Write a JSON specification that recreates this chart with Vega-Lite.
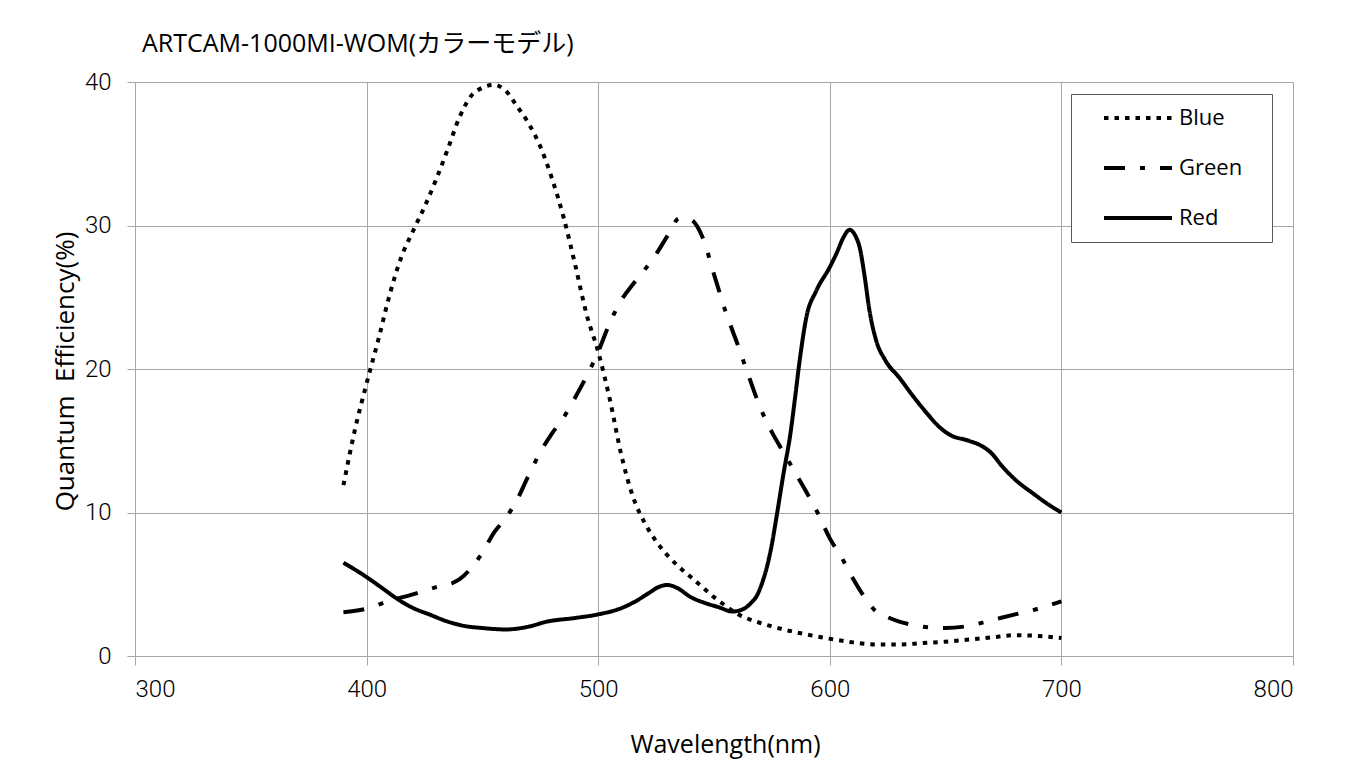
{
  "$schema": "https://vega.github.io/schema/vega-lite/v6.json",
  "width": 1158,
  "height": 574,
  "autosize": {"type": "none"},
  "padding": {"left": 135, "top": 82, "right": 69, "bottom": 106},
  "background": "white",
  "title": {
    "text": "ARTCAM-1000MI-WOM(カラーモデル)",
    "anchor": "start",
    "frame": "group",
    "dx": 7,
    "offset": -7,
    "baseline": "alphabetic",
    "font": "Open Sans, Noto Sans CJK JP",
    "fontSize": 25,
    "fontWeight": "normal",
    "color": "#000000"
  },
  "data": {
    "values": [
      {"series": "Blue", "wavelength": 390, "qe": 11.9},
      {"series": "Blue", "wavelength": 395, "qe": 15.8},
      {"series": "Blue", "wavelength": 400, "qe": 19.0},
      {"series": "Blue", "wavelength": 405, "qe": 22.0},
      {"series": "Blue", "wavelength": 410, "qe": 25.2},
      {"series": "Blue", "wavelength": 415, "qe": 27.8},
      {"series": "Blue", "wavelength": 420, "qe": 29.6},
      {"series": "Blue", "wavelength": 425, "qe": 31.3},
      {"series": "Blue", "wavelength": 430, "qe": 33.2},
      {"series": "Blue", "wavelength": 435, "qe": 35.3},
      {"series": "Blue", "wavelength": 440, "qe": 37.5},
      {"series": "Blue", "wavelength": 445, "qe": 39.0},
      {"series": "Blue", "wavelength": 450, "qe": 39.6},
      {"series": "Blue", "wavelength": 455, "qe": 39.8},
      {"series": "Blue", "wavelength": 460, "qe": 39.4},
      {"series": "Blue", "wavelength": 465, "qe": 38.3},
      {"series": "Blue", "wavelength": 470, "qe": 37.1},
      {"series": "Blue", "wavelength": 475, "qe": 35.5},
      {"series": "Blue", "wavelength": 480, "qe": 33.3},
      {"series": "Blue", "wavelength": 485, "qe": 30.6},
      {"series": "Blue", "wavelength": 490, "qe": 27.3},
      {"series": "Blue", "wavelength": 495, "qe": 23.8},
      {"series": "Blue", "wavelength": 500, "qe": 21.2},
      {"series": "Blue", "wavelength": 505, "qe": 17.9},
      {"series": "Blue", "wavelength": 510, "qe": 14.0},
      {"series": "Blue", "wavelength": 515, "qe": 11.1},
      {"series": "Blue", "wavelength": 520, "qe": 9.3},
      {"series": "Blue", "wavelength": 525, "qe": 8.0},
      {"series": "Blue", "wavelength": 530, "qe": 7.0},
      {"series": "Blue", "wavelength": 535, "qe": 6.2},
      {"series": "Blue", "wavelength": 540, "qe": 5.5},
      {"series": "Blue", "wavelength": 545, "qe": 4.8},
      {"series": "Blue", "wavelength": 550, "qe": 4.1},
      {"series": "Blue", "wavelength": 555, "qe": 3.5},
      {"series": "Blue", "wavelength": 560, "qe": 2.95},
      {"series": "Blue", "wavelength": 570, "qe": 2.3},
      {"series": "Blue", "wavelength": 580, "qe": 1.85},
      {"series": "Blue", "wavelength": 590, "qe": 1.5},
      {"series": "Blue", "wavelength": 600, "qe": 1.2},
      {"series": "Blue", "wavelength": 610, "qe": 0.95},
      {"series": "Blue", "wavelength": 620, "qe": 0.8},
      {"series": "Blue", "wavelength": 630, "qe": 0.8},
      {"series": "Blue", "wavelength": 640, "qe": 0.9},
      {"series": "Blue", "wavelength": 650, "qe": 1.0},
      {"series": "Blue", "wavelength": 660, "qe": 1.15},
      {"series": "Blue", "wavelength": 670, "qe": 1.3},
      {"series": "Blue", "wavelength": 680, "qe": 1.45},
      {"series": "Blue", "wavelength": 690, "qe": 1.4},
      {"series": "Blue", "wavelength": 700, "qe": 1.25},

      {"series": "Green", "wavelength": 390, "qe": 3.05},
      {"series": "Green", "wavelength": 400, "qe": 3.3},
      {"series": "Green", "wavelength": 410, "qe": 3.85},
      {"series": "Green", "wavelength": 420, "qe": 4.3},
      {"series": "Green", "wavelength": 430, "qe": 4.8},
      {"series": "Green", "wavelength": 438, "qe": 5.15},
      {"series": "Green", "wavelength": 442, "qe": 5.6},
      {"series": "Green", "wavelength": 446, "qe": 6.3},
      {"series": "Green", "wavelength": 450, "qe": 7.2},
      {"series": "Green", "wavelength": 455, "qe": 8.6},
      {"series": "Green", "wavelength": 460, "qe": 9.6},
      {"series": "Green", "wavelength": 465, "qe": 10.9},
      {"series": "Green", "wavelength": 470, "qe": 12.6},
      {"series": "Green", "wavelength": 475, "qe": 14.2},
      {"series": "Green", "wavelength": 480, "qe": 15.5},
      {"series": "Green", "wavelength": 485, "qe": 16.6},
      {"series": "Green", "wavelength": 490, "qe": 18.0},
      {"series": "Green", "wavelength": 495, "qe": 19.5},
      {"series": "Green", "wavelength": 500, "qe": 21.2},
      {"series": "Green", "wavelength": 505, "qe": 23.2},
      {"series": "Green", "wavelength": 510, "qe": 24.8},
      {"series": "Green", "wavelength": 515, "qe": 25.9},
      {"series": "Green", "wavelength": 520, "qe": 26.9},
      {"series": "Green", "wavelength": 525, "qe": 28.0},
      {"series": "Green", "wavelength": 530, "qe": 29.3},
      {"series": "Green", "wavelength": 535, "qe": 30.5},
      {"series": "Green", "wavelength": 540, "qe": 30.4},
      {"series": "Green", "wavelength": 545, "qe": 29.2},
      {"series": "Green", "wavelength": 550, "qe": 26.6},
      {"series": "Green", "wavelength": 555, "qe": 24.0},
      {"series": "Green", "wavelength": 560, "qe": 21.8},
      {"series": "Green", "wavelength": 565, "qe": 19.5},
      {"series": "Green", "wavelength": 570, "qe": 17.3},
      {"series": "Green", "wavelength": 575, "qe": 15.6},
      {"series": "Green", "wavelength": 580, "qe": 14.2},
      {"series": "Green", "wavelength": 585, "qe": 12.8},
      {"series": "Green", "wavelength": 590, "qe": 11.4},
      {"series": "Green", "wavelength": 595, "qe": 9.9},
      {"series": "Green", "wavelength": 600, "qe": 8.2},
      {"series": "Green", "wavelength": 605, "qe": 6.9},
      {"series": "Green", "wavelength": 610, "qe": 5.4},
      {"series": "Green", "wavelength": 615, "qe": 4.1},
      {"series": "Green", "wavelength": 620, "qe": 3.1},
      {"series": "Green", "wavelength": 625, "qe": 2.7},
      {"series": "Green", "wavelength": 630, "qe": 2.4},
      {"series": "Green", "wavelength": 640, "qe": 2.05},
      {"series": "Green", "wavelength": 650, "qe": 1.95},
      {"series": "Green", "wavelength": 660, "qe": 2.1},
      {"series": "Green", "wavelength": 670, "qe": 2.5},
      {"series": "Green", "wavelength": 680, "qe": 2.9},
      {"series": "Green", "wavelength": 690, "qe": 3.3},
      {"series": "Green", "wavelength": 700, "qe": 3.8},

      {"series": "Red", "wavelength": 390, "qe": 6.5},
      {"series": "Red", "wavelength": 400, "qe": 5.5},
      {"series": "Red", "wavelength": 407, "qe": 4.7},
      {"series": "Red", "wavelength": 414, "qe": 3.9},
      {"series": "Red", "wavelength": 420, "qe": 3.35},
      {"series": "Red", "wavelength": 427, "qe": 2.9},
      {"series": "Red", "wavelength": 435, "qe": 2.4},
      {"series": "Red", "wavelength": 442, "qe": 2.1},
      {"series": "Red", "wavelength": 450, "qe": 1.95},
      {"series": "Red", "wavelength": 460, "qe": 1.85},
      {"series": "Red", "wavelength": 470, "qe": 2.05},
      {"series": "Red", "wavelength": 478, "qe": 2.4},
      {"series": "Red", "wavelength": 490, "qe": 2.65},
      {"series": "Red", "wavelength": 500, "qe": 2.9},
      {"series": "Red", "wavelength": 511, "qe": 3.4},
      {"series": "Red", "wavelength": 516, "qe": 3.8},
      {"series": "Red", "wavelength": 522, "qe": 4.4},
      {"series": "Red", "wavelength": 526, "qe": 4.8},
      {"series": "Red", "wavelength": 530, "qe": 4.95},
      {"series": "Red", "wavelength": 534, "qe": 4.75},
      {"series": "Red", "wavelength": 540, "qe": 4.1},
      {"series": "Red", "wavelength": 546, "qe": 3.7},
      {"series": "Red", "wavelength": 552, "qe": 3.4},
      {"series": "Red", "wavelength": 558, "qe": 3.1},
      {"series": "Red", "wavelength": 563, "qe": 3.3},
      {"series": "Red", "wavelength": 566, "qe": 3.7},
      {"series": "Red", "wavelength": 568.5, "qe": 4.2},
      {"series": "Red", "wavelength": 571, "qe": 5.2},
      {"series": "Red", "wavelength": 573, "qe": 6.3},
      {"series": "Red", "wavelength": 575, "qe": 7.8},
      {"series": "Red", "wavelength": 577, "qe": 9.7},
      {"series": "Red", "wavelength": 580, "qe": 12.7},
      {"series": "Red", "wavelength": 583, "qe": 15.5},
      {"series": "Red", "wavelength": 585, "qe": 18.0},
      {"series": "Red", "wavelength": 587, "qe": 20.6},
      {"series": "Red", "wavelength": 590, "qe": 23.7},
      {"series": "Red", "wavelength": 594, "qe": 25.4},
      {"series": "Red", "wavelength": 600, "qe": 27.1},
      {"series": "Red", "wavelength": 603, "qe": 28.1},
      {"series": "Red", "wavelength": 606, "qe": 29.2},
      {"series": "Red", "wavelength": 608.5, "qe": 29.7},
      {"series": "Red", "wavelength": 611, "qe": 29.3},
      {"series": "Red", "wavelength": 613, "qe": 28.4},
      {"series": "Red", "wavelength": 615, "qe": 26.5},
      {"series": "Red", "wavelength": 617, "qe": 24.2},
      {"series": "Red", "wavelength": 620, "qe": 22.0},
      {"series": "Red", "wavelength": 624, "qe": 20.6},
      {"series": "Red", "wavelength": 630, "qe": 19.4},
      {"series": "Red", "wavelength": 636, "qe": 18.1},
      {"series": "Red", "wavelength": 642, "qe": 16.9},
      {"series": "Red", "wavelength": 647, "qe": 16.0},
      {"series": "Red", "wavelength": 652, "qe": 15.4},
      {"series": "Red", "wavelength": 660, "qe": 15.0},
      {"series": "Red", "wavelength": 666, "qe": 14.6},
      {"series": "Red", "wavelength": 670, "qe": 14.1},
      {"series": "Red", "wavelength": 674, "qe": 13.3},
      {"series": "Red", "wavelength": 680, "qe": 12.3},
      {"series": "Red", "wavelength": 688, "qe": 11.3},
      {"series": "Red", "wavelength": 694, "qe": 10.6},
      {"series": "Red", "wavelength": 700, "qe": 10.0}
    ]
  },
  "mark": {
    "type": "line",
    "interpolate": "monotone",
    "strokeWidth": 4,
    "color": "#000000",
    "strokeCap": "butt"
  },
  "encoding": {
    "x": {
      "field": "wavelength",
      "type": "quantitative",
      "scale": {"domain": [300, 800], "nice": false, "zero": false},
      "axis": {
        "values": [300, 400, 500, 600, 700, 800],
        "title": "Wavelength(nm)",
        "grid": true,
        "gridColor": "#a6a6a6",
        "gridWidth": 1,
        "domainColor": "#a6a6a6",
        "tickColor": "#a6a6a6",
        "tickSize": 9,
        "labelPadding": 12,
        "labelFont": "Roboto",
        "labelFontWeight": 300,
        "labelFontSize": 24,
        "labelColor": "#000000",
        "titleFont": "Open Sans",
        "titleFontSize": 25,
        "titleFontWeight": "normal",
        "titleColor": "#000000",
        "titleX": 590,
        "titleY": 96,
        "titleAlign": "center",
        "titleBaseline": "alphabetic",
        "titleAnchor": null
      }
    },
    "y": {
      "field": "qe",
      "type": "quantitative",
      "scale": {"domain": [0, 40], "nice": false},
      "axis": {
        "values": [0, 10, 20, 30, 40],
        "title": "Quantum\u00a0 Efficiency(%)",
        "grid": true,
        "gridColor": "#a6a6a6",
        "gridWidth": 1,
        "domainColor": "#a6a6a6",
        "tickColor": "#a6a6a6",
        "tickSize": 8,
        "labelPadding": 16,
        "labelFont": "Roboto",
        "labelFontWeight": 300,
        "labelFontSize": 24,
        "labelColor": "#000000",
        "titleFont": "Open Sans",
        "titleFontSize": 26,
        "titleFontWeight": "normal",
        "titleColor": "#000000",
        "titleX": -62,
        "titleY": 289,
        "titleAngle": -90,
        "titleAlign": "center",
        "titleBaseline": "alphabetic",
        "titleAnchor": null
      }
    },
    "strokeDash": {
      "field": "series",
      "type": "nominal",
      "scale": {
        "domain": ["Blue", "Green", "Red"],
        "range": [[4.5, 6], [21, 15, 5, 15], [1, 0]]
      },
      "legend": {
        "title": null,
        "orient": "none",
        "legendX": 936,
        "legendY": 12,
        "fillColor": "#ffffff",
        "strokeColor": "#595959",
        "padding": 13,
        "symbolType": "M-17,0H17",
        "symbolSize": 16,
        "symbolOffset": 43,
        "symbolStrokeWidth": 4,
        "symbolStrokeColor": "#000000",
        "symbolFillColor": "transparent",
        "labelFont": "Open Sans",
        "labelFontSize": 22,
        "labelColor": "#000000",
        "labelOffset": 30,
        "rowPadding": 28,
        "labelExpr": "datum.label + '\u2800'"
      }
    }
  },
  "config": {
    "view": {"stroke": null}
  }
}
